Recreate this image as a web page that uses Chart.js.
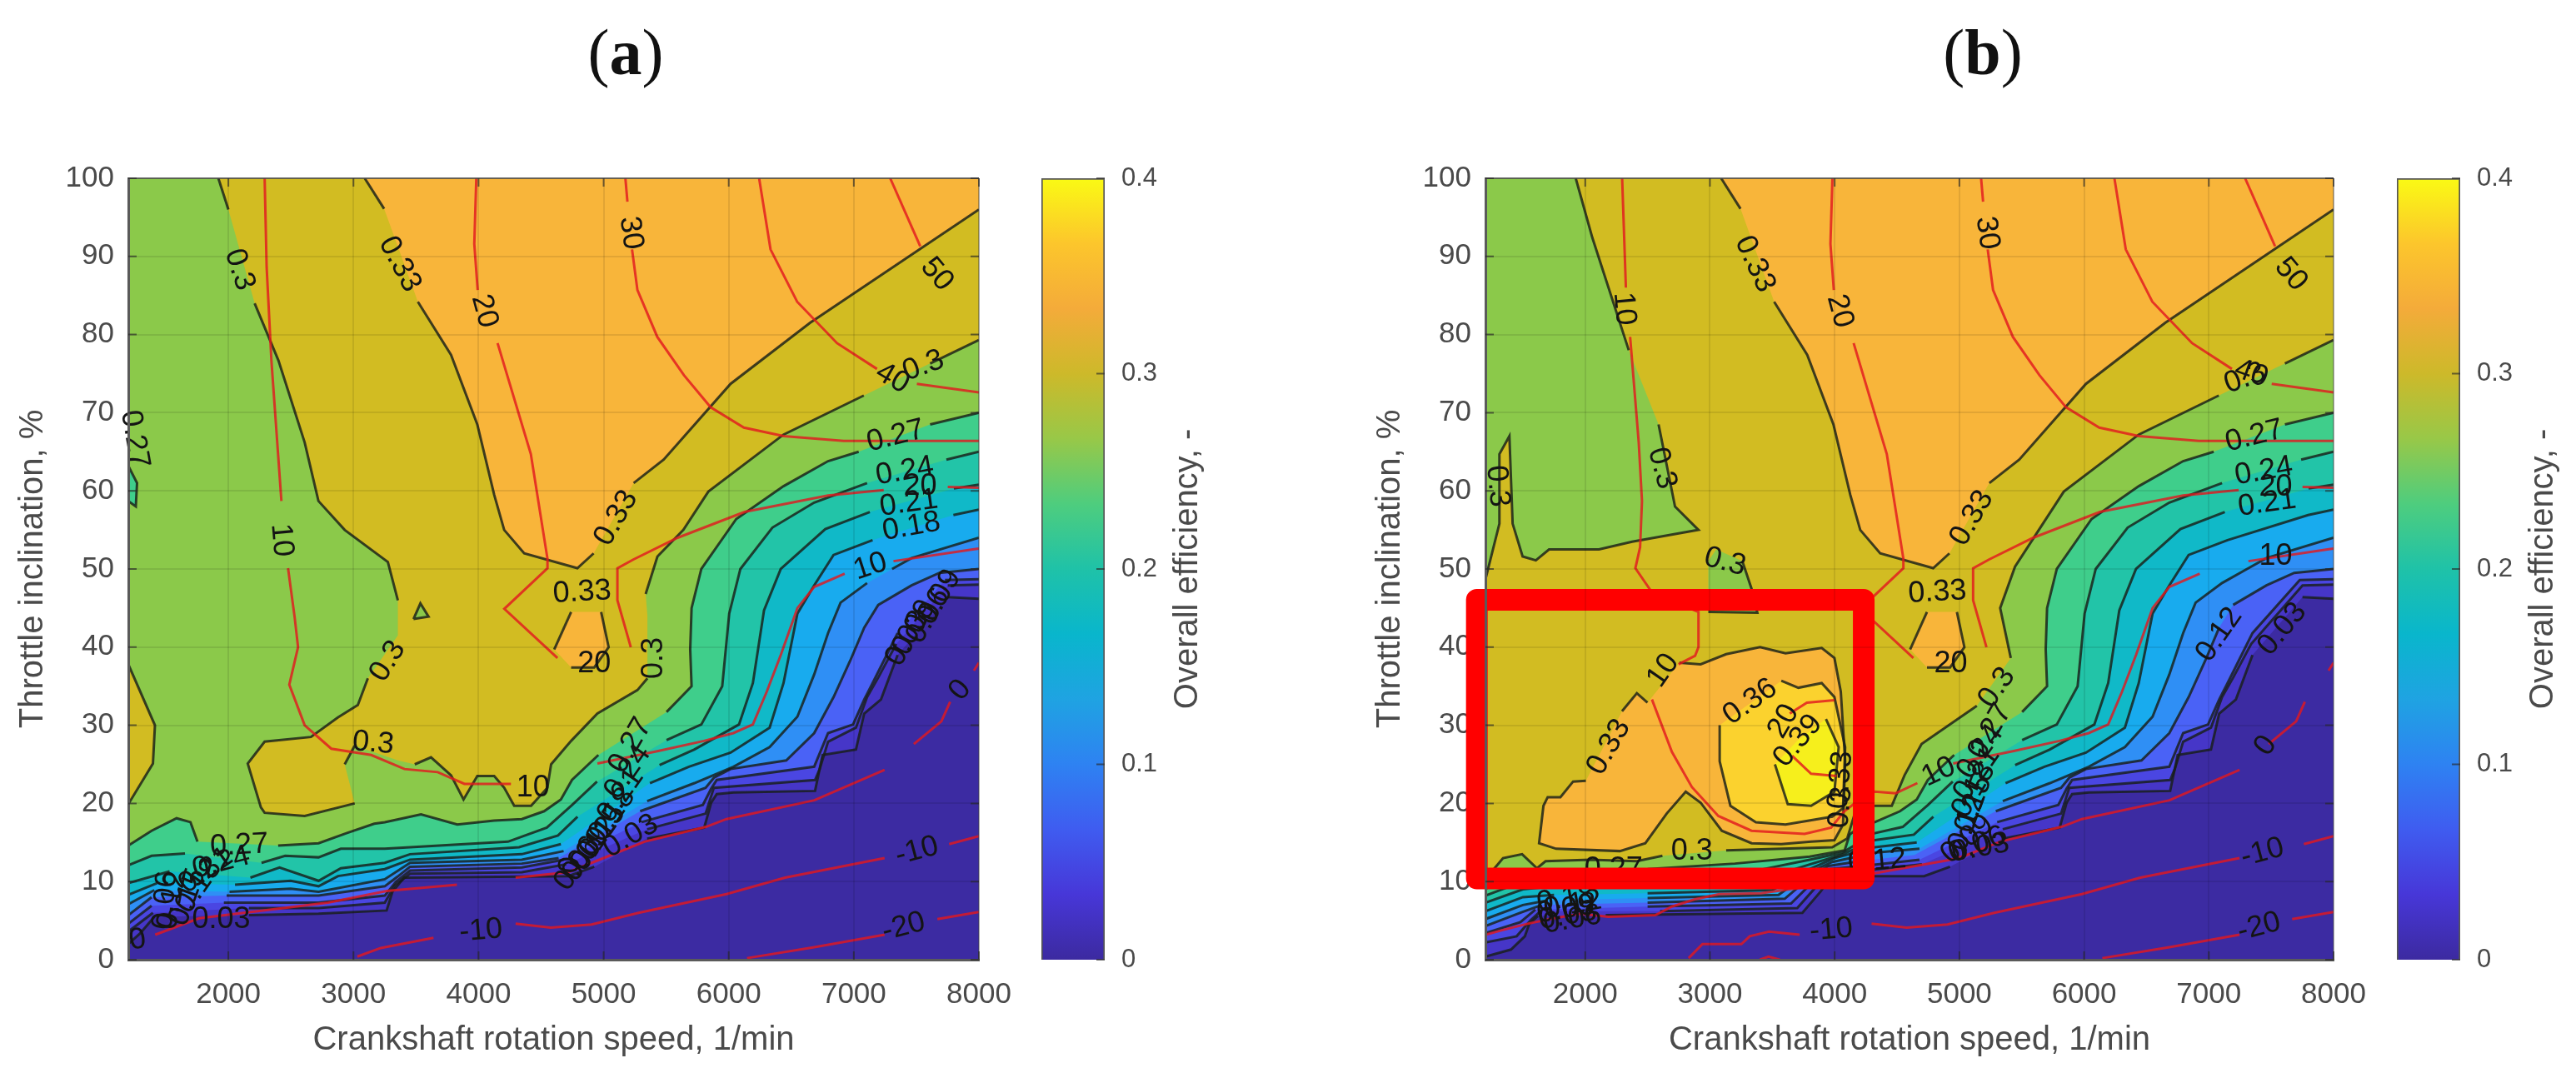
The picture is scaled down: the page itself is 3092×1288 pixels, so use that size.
<!DOCTYPE html>
<html>
<head>
<meta charset="utf-8">
<title>Overall efficiency maps</title>
<script src="https://cdn.jsdelivr.net/npm/chart.js@4"></script>
<style>
  html, body { margin: 0; background: #fff; width: 3092px; height: 1288px; overflow: hidden; }
  canvas { position: absolute; filter: blur(0.7px); }
  .panel { position: absolute; top: 18px; width: 300px; text-align: center; font: 78px "Liberation Serif", serif; color: #111; }
</style>
</head>
<body>
<div class="panel" style="left:601px">(<b>a</b>)</div>
<div class="panel" style="left:2230px">(<b>b</b>)</div>
<canvas id="mapA" width="1230" height="1098" style="left:0;top:190px"></canvas>
<canvas id="barA" width="260" height="1098" style="left:1240px;top:190px"></canvas>
<canvas id="mapB" width="1230" height="1098" style="left:1629px;top:190px"></canvas>
<canvas id="barB" width="260" height="1098" style="left:2867px;top:190px"></canvas>
<script>
// --- Axis ticks ---
const xTicks = [2000, 3000, 4000, 5000, 6000, 7000, 8000];
const yTicks = [0, 10, 20, 30, 40, 50, 60, 70, 80, 90, 100];
const barTicks = [0, 0.1, 0.2, 0.3, 0.4];

// --- Colours of the contour bands, lowest first ---
const bandColors = ['#3c2ba2', '#4636c8', '#4a46e2', '#4a62f6', '#2f8ff5', '#18abee', '#10b9c8', '#22c4a8', '#3fce8b', '#8bc94a', '#d2bc22', '#f8b53a', '#fbd22e', '#f6ef1c'];
const barStops = ['#3c2aa0', '#4737d8', '#3f5cf0', '#2e82f2', '#1fa3e2', '#09b6cc', '#1fc2a8', '#4ecd7e', '#98c848', '#cdb92a', '#f4ab3a', '#fcc62c', '#fafa14'];

// --- Efficiency contours, right part shared by both maps ---
const tail03 = [[5348,15.5],[5804,16.9],[5860,20.1],[5904,21.2],[6038,21.4],[6690,21.6],[6750,26.2],[7017,26.9],[7083,31.5],[7217,33.3],[7350,39],[7751,46.4],[8000,46.2]];
const tail06 = [[5348,16.7],[5815,18.7],[5881,22],[6690,23],[6727,24.4],[6794,27.9],[7017,29.7],[7106,33.6],[7195,36.1],[7339,40.4],[7751,47.9],[8000,48]];
const tail09 = [[5303,17.6],[5793,19.8],[5860,21.9],[5904,23],[6683,24.7],[6794,29],[6994,30.1],[7083,33.3],[7150,35.4],[7350,41.8],[7729,48.6],[8000,48.7]];
const tail12 = [[5292,19],[5815,22],[5882,23.3],[6015,24.4],[6460,25.5],[6683,29],[6838,33.6],[6972,38.3],[7083,42.5],[7195,45.4],[7462,47.9],[7684,49.5],[8000,50]];
const tail15 = [[5348,20.3],[5726,22.6],[6038,24.7],[6327,27.2],[6549,31.1],[6683,36.5],[6794,41.8],[6894,45.7],[7106,48.2],[7306,50],[7462,51.4],[8000,54]];
const tail18 = [[5370,22.6],[5682,24.7],[6015,26.5],[6327,29.7],[6438,35.4],[6549,44.3],[6683,47.9],[6838,51.8],[7150,53.7],[7796,56.9],[8000,57.6]];
const tail21 = [[5447,24.9],[5726,26.9],[6082,30.1],[6193,35.4],[6282,44.7],[6416,50],[6772,55.1],[7128,57.3],[7800,60.3],[8000,60.8]];
const tail24 = [[5503,28.1],[5781,30.1],[5948,35],[6004,44.3],[6093,50],[6349,55.3],[6683,58.5],[7106,61],[7740,64],[8000,65]];
const tail27 = [[5503,31.7],[5703,35],[5692,39.7],[5703,45],[5781,50],[6060,56.4],[6438,60.6],[6794,63.8],[7039,65],[7610,68.5],[8000,70]];
const tail30 = [[5637,55],[5837,59.9],[6438,67.2],[7080,72.2],[7610,76.3],[8000,79.3]];
const top33 = [[3090,100],[3245,96.1],[3515,84.2],[3780,77.4],[3990,68.5],[4125,59.5],[4205,55],[4365,52],[4790,50.1],[4920,52],[5240,61],[5480,64],[6015,73.7],[6650,81.5],[8000,96],[8000,100]];
const small33 = [[4605,39.7],[4740,44.5],[4980,44.5],[5040,40],[4925,37.4],[4740,37.4],[4605,39.7]];

// --- Map (a), left part of the contours ---
const a03 = [[1200,2],[1296,3.4],[1408,5.5],[2164,5.7],[2721,5.9],[3265,6.3],[3312,8.7],[3405,10.5],[4717,10.7],[4925,11.9]];
const a06 = [[1200,3.6],[1397,6],[2164,6.6],[2721,6.6],[3250,7.3],[3330,9.5],[3452,11],[4346,11.2],[4700,12.2]];
const a09 = [[1200,4.6],[1386,6.9],[1964,7.3],[2721,7.3],[3250,8.2],[3340,10],[3452,11.4],[4346,11.8],[4680,12.8]];
const a12 = [[1200,5.7],[1386,8],[1986,8.2],[2721,8.2],[3250,9.4],[3350,10.6],[3452,11.9],[4346,12.3],[4640,13]];
const a15 = [[1200,7.1],[1408,8.9],[2009,8.7],[2498,9.1],[2721,8.7],[3250,10.3],[3452,12.4],[4346,12.8],[4680,13.9]];
const a18 = [[1200,8.3],[1430,9.8],[2053,9.6],[2498,10.1],[2721,9.4],[2877,10.7],[3250,11.6],[3452,12.8],[4346,13.5],[4658,14.8]];
const a21 = [[1200,9.8],[1530,11.3],[2176,10.5],[2409,11.8],[2721,10.1],[2899,11.7],[3250,12.4],[3452,13.5],[4324,14.4],[4635,15.9],[4791,18.3]];
const a24 = [[1200,12.1],[1386,13.3],[1653,13.6],[2265,12.4],[2454,13.3],[2721,13.1],[2899,14.2],[3250,14.2],[4235,15.1],[4546,16.9],[4747,19.8],[4947,22.8]];
const a27 = [[1200,14.6],[1386,16.5],[1586,18.1],[1697,17.6],[1753,15.1],[2398,14.6],[2721,14.9],[2944,16.2],[3166,17.4],[3250,17.6],[3540,18.6],[3830,17.3],[4124,17.8],[4346,18],[4524,19],[4658,20.5],[4747,23],[4958,26.2]];
const a30 = [[1920,100],[2000,96],[2210,84],[2400,76.7],[2610,66.2],[2720,58.7],[2930,55],[3275,50.9],[3355,46],[3355,41.5],[3115,36],[3035,32.6],[2875,31],[2660,28.5],[2290,27.9],[2155,25.1],[2260,19.5],[2290,18.8],[2610,18.4],[3010,20],[2930,25],[3010,27.4],[3355,25.5],[3490,25],[3620,25.9],[3780,23.6],[3880,20.5],[3990,23.5],[4125,23.5],[4205,22],[4285,19.7],[4420,19.7],[4550,22],[4580,25],[4740,28],[4950,31.5],[5270,34.5],[5350,36],[5350,44],[5336,46.8],[5430,51.6]];
const aIsland = [[1200,37.8],[1413,30],[1397,25.1],[1200,19.9]];
const aHole = [[3480,43.6],[3535,45.6],[3600,43.9],[3480,43.6]];
const aSliver = [[1200,63.2],[1270,61],[1260,58],[1200,58.7]];

// --- Map (b), left part of the contours ---
const b03 = [[1200,0.4],[1405,1.3],[1516,3],[1549,4.5],[1620,5.6],[2164,5.7],[3741,6],[3886,8.7],[3980,10.7],[4717,10.7],[4925,11.9]];
const b06 = [[1200,2.2],[1450,3],[1560,5],[1640,6.2],[2600,6.2],[3700,6.6],[3860,9.5],[3970,11],[4346,11.6],[4700,12.2]];
const b09 = [[1200,3.4],[1480,4.8],[1600,6.4],[2500,6.8],[3650,7.2],[3840,10.2],[3960,11.6],[4346,12.2],[4680,12.8]];
const b12 = [[1200,4.3],[1480,6],[1650,7],[2500,7.3],[3600,7.8],[3820,10.8],[3950,12],[4200,12.6],[4640,13.4]];
const b15 = [[1200,5.2],[1500,7],[1700,7.6],[2500,7.9],[3550,8.3],[3800,11.2],[3980,12.5],[4322,13.7],[4680,14.2]];
const b18 = [[1200,6.2],[1500,8],[1750,8.3],[2500,8.5],[3500,8.9],[3800,11.6],[4000,13],[4322,14.4],[4658,15]];
const b21 = [[1200,7.3],[1500,9],[1800,9.5],[2500,9.8],[3400,10.2],[3800,12.2],[4050,13.4],[4322,15.3],[4635,16],[4791,18.3]];
const b24 = [[1200,8.2],[1500,10],[1800,10.5],[2500,10.8],[3400,11.5],[3800,12.8],[4060,13.7],[4322,16.2],[4546,17],[4747,19.8],[4947,22.8]];
const b27 = [[1200,9],[1273,10],[1500,11.5],[1613,10.8],[2000,11.5],[2500,11.6],[3200,12.3],[3800,13.2],[4080,14],[4120,16],[4200,17],[4322,17.6],[4524,19],[4658,20.5],[4747,23],[4958,26.2]];
const b30 = [[1200,10],[1273,11.7],[1341,13],[1494,13.5],[1613,11.7],[1682,12.6],[2039,12.8],[2414,12.6],[2619,13.3],[3130,14],[3981,14.4],[4100,15.5],[4180,19.7],[4458,19.7],[4560,23.6],[4697,27.6],[5140,32.5],[5412,38.6],[5327,45],[5446,50.3]];
const bGreenTop = [[1200,100],[1924,100],[2057,92.4],[2349,78],[2588,68.5],[2720,58],[2908,55],[2376,53.5],[2110,52.5],[1710,52.5],[1604,51.1],[1498,51.6],[1418,55.8],[1392,67],[1312,64.7],[1312,55.8],[1205,49],[1200,49]];
const bGreenMid = [[2987,51],[3050,52.5],[3260,51],[3333,47.5],[3380,44.4],[2987,44.5]];
const b33 = [[2005,22.9],[1903,22.8],[1801,20.8],[1699,20.8],[1665,19.7],[1630,14.9],[1767,14.2],[2278,13.9],[2482,14.9],[2653,18.7],[2806,21.5],[2925,20.1],[3095,16.5],[3334,14.9],[3572,14.8],[3811,15.1],[3998,15.3],[4067,17.3],[4084,25.4],[4049,34.3],[3998,38.6],[3896,39.9],[3606,39.2],[3402,40],[3130,39.1],[2925,37.8],[2755,38],[2499,32.9],[2414,34.1],[2295,31.8],[2005,22.9]];
const b36 = [[3078,30],[3078,25.4],[3164,19.7],[3368,17.6],[3606,17.3],[3981,18.3],[4067,19.4],[4084,27.2],[3998,33.6],[3896,35.4],[3709,34.8],[3572,35.7],[3078,30]];
const b39 = [[3521,25],[3624,19.9],[3811,19.7],[3998,21.5],[4032,27.2],[3930,30.8],[3700,28],[3521,25]];

// --- Power lines ---
const red10Tail = [[4950,25.1],[5436,26.7],[5802,28],[6037,29],[6193,30.1],[6304,34.3],[6416,39],[6549,45],[6683,47.7],[6927,49.4],[7317,51],[7951,52.5],[8000,52.6]];
const red20 = [[3982,100],[3966,91.6],[3993,85.7],[4152,78.9],[4418,64.7],[4551,51.3],[4551,50.1],[4206,44.9],[4631,38.6],[4738,37.4],[5217,40],[5110,46],[5110,50.1],[5236,51.2],[5592,54],[6126,57.3],[6794,59.4],[7239,60.1],[7751,60.5],[8000,60.4]];
const red30 = [[5174,100],[5190,97],[5227,90.9],[5270,85.7],[5429,79.7],[5642,74.8],[5855,70.7],[6121,68.1],[6440,67],[6919,66.4],[8000,66.4]];
const red40 = [[6243,100],[6334,90.9],[6547,84.2],[6866,78.9],[7185,75.6],[7504,73.7],[8000,72.6]];
const red50 = [[7291,100],[7531,91.3],[7770,85.7],[8000,83.4]];
const red0Tail = [[5045,13.3],[5326,15.1],[5818,17],[5982,18],[6684,20.4],[7246,24.3],[7480,27.6],[7700,30.5],[7770,33],[7960,37],[8000,38]];
const redNeg10Tail = [[4296,4.6],[4577,4.1],[4904,4.5],[5279,6],[5982,8.4],[6450,10.5],[7246,13],[7762,14.8],[8000,15.8]];
const redNeg20 = [[6146,0.2],[6684,1.6],[7246,3.2],[7668,5.2],[8000,6.1]];
const red10A = [[2290,100],[2306,88.6],[2344,76.7],[2424,58.7],[2477,50.1],[2530,43.8],[2557,40],[2487,35.2],[2610,30],[2823,27],[3142,26.2],[3408,24.4],[3674,24],[3887,22.5],[4259,22.5],[4631,22.5]];
const red0A = [[1415,3.2],[1766,5.3],[2234,6.2],[2797,7.3],[3265,8.8],[3827,9.6],[4296,10.5],[4717,11.2]];
const redNeg10A = [[3031,0.4],[3218,1.5],[3640,2.8],[3827,3.4]];
const red10B = [[2296,100],[2322,87.9],[2326,86],[2360,79.7],[2429,66.2],[2455,58.7],[2440,52.8],[2402,50.1],[2535,47],[2908,44.5],[2908,40],[2881,38.9],[2748,37.8],[2535,33.3],[2695,26.6],[2855,22.1],[3067,18.4],[3333,16.5],[3759,16.1],[3972,16.9],[4078,19],[4200,20.5],[4322,21.5],[4490,21.3],[4663,22.6]];
const red20Inner = [[3998,33.2],[3777,32.9],[3640,31.5],[3658,26.1],[3811,23.8],[4015,23.5]];
const red0B = [[1200,3.2],[1338,3.8],[1538,4.6],[1716,5.2],[1961,5.9],[2184,5.5],[2562,5.7],[2695,6.8],[2873,7.7],[3074,8.4],[3408,8.5],[4000,9.8],[4263,10.9],[4930,12.8]];
const redNeg10B = [[2829,0.2],[2940,2],[3252,2],[3319,3],[3474,3.6],[3719,3.2]];
const redBump = [[3400,0],[3470,0.4],[3560,0]];

// --- Highlight box of map (b) ---
const highlightB = [[1131,46.05],[4233,46.05],[4233,10.4],[1131,10.4],[1131,46.05]];

// --- Contour labels: text, speed, throttle, rotation ---
const labelsA = [
  ['0.3',2088,88.3,72],['0.33',3370,89,62],['20',4046,83,75],['30',5217,93,82],['50',7664,87.7,50],['40',7308,74.4,30],['0.3',7557,76,-20],
  ['0.27',7334,67,-14],['0.24',7408,62.5,-10],['20',7530,60.5,0],['0.21',7440,58.4,-8],['0.18',7460,55.4,-10],['10',7132,50.3,-18],
  ['0.33',5100,56.5,-60],['0.33',4828,47,-3],['20',4924,37.8,0],['0.3',5403,38.6,-90],['0.3',3275,38.2,-58],['0.3',3158,27.7,5],['10',2424,53.7,85],['10',4435,21.9,0],['0.27',1250,66.6,80],
  ['0.27',2087,14.6,-3],['0.24',1942,12.4,-15],['0.21',1820,11.4,-35],['0.18',1764,9.4,-55],['0.15',1675,8,-70],['0.12',1552,7.6,-80],['0.06',1497,7.6,-85],['0.03',1942,5.1,0],['0',1274,2.5,-10],
  ['0.27',5214,27.4,-60],['0.24',5192,24,-55],['0.21',5136,21,-55],['0.18',5070,18.5,-55],['0.15',4992,16.4,-55],['0.12',4925,14.8,-55],['0.09',4858,13.5,-55],['0.06',4791,12.3,-55],['0.03',5217,15.8,-30],['0',4735,12.1,-85],
  ['0.09',7684,46.4,-60],['0.06',7595,44,-60],['0.09',7484,42.5,-60],['0.03',7428,41.1,-60],['0',7851,34.5,-50],['-10',4019,3.7,-5],['-10',7504,13.9,-15],['-20',7398,4.2,-15]
];
const labelsB = [
  ['0.33',3360,89,65],['20',4041,83,75],['30',5222,93,82],['50',7658,87.7,50],['0.3',7290,74.4,-20],['40',7340,75,20],
  ['0.27',7365,67,-14],['0.24',7440,62.5,-10],['20',7536,60.4,0],['0.21',7467,58.4,-8],['10',7536,51.6,0],['0.12',7084,41.6,-55],['0.03',7590,42.3,-50],['0',7456,27.4,-55],['-10',7430,13.7,-15],['-20',7403,4.2,-15],['-10',3972,3.8,-5],
  ['10',2312,83.3,85],['0.3',2615,62.9,75],['0.3',1296,60.6,85],['0.3',3120,50.9,15],['0.33',2190,27.2,-60],['10',2626,37,-55],['0.36',3323,33,-35],['20',3590,30.5,-60],['0.39',3706,28,-50],['0.33',4050,23,-85],['0.3',4050,19.5,-85],['0.3',2855,13.9,0],['0.27',2227,11.5,0],
  ['0.33',5100,56.5,-60],['0.33',4823,47,-3],['20',4930,37.8,0],['0.3',5302,34.8,-55],['0.27',5248,29.2,-60],['0.24',5168,26.6,-55],['10',4834,24,-25],['0.21',5140,23.8,-55],['0.18',5115,21.7,-60],['0.15',5115,19.9,-70],['0.12',5062,17.6,-70],['0.09',5062,15.4,-40],['0.06',5142,14.7,-20],['0.03',5168,14.3,-10],['0.12',4340,12.6,-5],
  ['0.18',1844,7.8,-10],['0.12',1900,7,-10],['0.09',1844,6.4,-10],['0.06',1897,5.1,-10],['0.03',1860,5.6,-10]
];

// --- Where a contour is broken for its label (x of the point the gap starts at) ---
const gapsA = { a03:[1408,4925,7350], a06:[1397,4700,7339], a09:[1386,4680,7350], a12:[1386,4640], a15:[1408,4680,7106], a18:[1430,4658,7150], a21:[1530,4791,7128], a24:[1653,4947,7106], a27:[1753,4958,7039], a30:[2000,3355,3010,5350,7080] };
const gapsB = { b03:[1620,4925,7350], b06:[1640,4700], b09:[1600,4680], b12:[1650,4200,4640,7083], b15:[1700,4680], b18:[1750,4658], b21:[1800,4791,7128], b24:[1800,4947,7106], b27:[1613,4958,7039], b30:[2619,5140,7080] };
const gaps33 = [3245,4920];
const redGaps = [2424,4259,4631,6927,3993,4738,7239,5190,7185,7531,7770,3827,7246,3719,4663,2326,2748,3640];

const contourColor = 'rgba(25,30,25,0.82)';
const redColor = 'rgba(226,24,30,0.82)';
const axisFont = { family: '"Liberation Sans", Arial, sans-serif', size: 35 };
const barFont = { family: axisFont.family, size: 31 };
const titleFont = { family: axisFont.family, size: 40 };
const textColor = '#4a4a4a';

function fillSet(points, color, i) {
  return { data: points, showLine: true, fill: 'shape', backgroundColor: color, borderWidth: 0, pointRadius: 0, order: 1000 - i };
}

function lineSet(points, color, width, gaps, i) {
  return {
    data: points, showLine: true, fill: false, borderColor: color, borderWidth: width, pointRadius: 0, order: 500 - i,
    segment: { borderColor: c => gaps.includes(c.p0.parsed.x) ? 'transparent' : undefined }
  };
}

// draws the rotated contour labels just before the highlight box, so the box covers them
const contourLabels = {
  id: 'contourLabels',
  beforeDatasetDraw(chart, args) {
    if (chart.data.datasets[args.index].label !== 'highlight') return;
    const { ctx, scales } = chart;
    ctx.save();
    ctx.fillStyle = '#141414';
    ctx.font = '36px "Liberation Sans", Arial, sans-serif';
    ctx.textAlign = 'center';
    ctx.textBaseline = 'middle';
    for (const [text, x, y, rot] of chart.options.plugins.contourLabels.items) {
      ctx.save();
      ctx.translate(scales.x.getPixelForValue(x), scales.y.getPixelForValue(y));
      ctx.rotate(rot * Math.PI / 180);
      ctx.fillText(text, 0, 0);
      ctx.restore();
    }
    ctx.restore();
  }
};

// short ticks pointing inwards, like the original axes
const innerTicks = {
  id: 'innerTicks',
  afterDraw(chart) {
    const { ctx, chartArea: a, scales } = chart;
    ctx.save();
    ctx.strokeStyle = 'rgba(40,40,40,0.65)';
    ctx.lineWidth = 2;
    ctx.beginPath();
    if (scales.y) for (const t of scales.y.ticks) {
      const py = scales.y.getPixelForValue(t.value);
      if (scales.y.position === 'right') {
        ctx.moveTo(a.right, py); ctx.lineTo(a.right - 10, py);
      } else {
        ctx.moveTo(a.left, py); ctx.lineTo(a.left + 10, py);
        ctx.moveTo(a.right, py); ctx.lineTo(a.right - 10, py);
      }
    }
    if (scales.x && scales.x.type === 'linear') for (const t of scales.x.ticks) {
      const px = scales.x.getPixelForValue(t.value);
      ctx.moveTo(px, a.bottom); ctx.lineTo(px, a.bottom - 10);
      ctx.moveTo(px, a.top); ctx.lineTo(px, a.top + 10);
    }
    ctx.stroke();
    ctx.restore();
  }
};

function createMap(canvasId, rightPad, fills, lines, labels, highlight) {
  const datasets = [];
  fills.forEach((f, i) => datasets.push(fillSet(f[0], f[1], i)));
  lines.forEach((l, i) => datasets.push(lineSet(l[0], l[1], l[2], l[3], i)));
  datasets.push({ label: 'highlight', data: highlight, showLine: true, fill: false, borderColor: '#ff0000', borderWidth: 26, borderCapStyle: 'round', borderJoinStyle: 'round', pointRadius: 0, clip: false, order: 1 });
  return new Chart(document.getElementById(canvasId), {
    type: 'scatter',
    data: { datasets },
    plugins: [contourLabels, innerTicks],
    options: {
      responsive: false,
      animation: false,
      devicePixelRatio: 1,
      layout: { padding: { top: 24, right: rightPad, left: 0, bottom: 0 } },
      plugins: { legend: { display: false }, tooltip: { enabled: false }, contourLabels: { items: labels } },
      scales: {
        x: {
          type: 'linear', min: 1200, max: 8000,
          afterBuildTicks: s => { s.ticks = xTicks.map(v => ({ value: v })); },
          afterFit: s => { s.height = 136; s.paddingLeft = 0; s.paddingRight = 0; },
          grid: { color: c => c.tick && c.tick.value === 8000 ? 'rgba(70,70,70,0.45)' : 'rgba(0,0,0,0.09)', lineWidth: 2, drawTicks: false, z: 1 },
          border: { color: '#5a5a5a', width: 3, z: 2 },
          ticks: { font: axisFont, color: textColor, padding: 21, maxRotation: 0, autoSkip: false, callback: v => String(v) },
          title: { display: true, text: 'Crankshaft rotation speed, 1/min', font: titleFont, color: textColor, padding: { top: 0, bottom: 15 } }
        },
        y: {
          min: 0, max: 100,
          afterBuildTicks: s => { s.ticks = yTicks.map(v => ({ value: v })); },
          afterFit: s => { s.width = 154; s.paddingTop = 0; s.paddingBottom = 0; },
          grid: { color: c => c.tick && c.tick.value === 100 ? 'rgba(70,70,70,0.8)' : 'rgba(0,0,0,0.09)', lineWidth: 2, drawTicks: false, z: 1 },
          border: { color: '#5a5a5a', width: 3, z: 2 },
          ticks: { font: axisFont, color: textColor, padding: 17, autoSkip: false, callback: v => String(v) },
          title: { display: true, text: 'Throttle inclination, %', font: titleFont, color: textColor, padding: { top: 16, bottom: 0 } }
        }
      }
    }
  });
}

// colour bar: one bar from 0 to 0.4 painted with the colour scale
function createColorBar(canvasId) {
  return new Chart(document.getElementById(canvasId), {
    type: 'bar',
    data: {
      labels: ['Overall efficiency'],
      datasets: [{
        data: [0.4],
        barPercentage: 1,
        categoryPercentage: 1,
        borderColor: '#555',
        borderWidth: 2,
        backgroundColor: c => {
          const area = c.chart.chartArea;
          if (!area) return barStops[0];
          const g = c.chart.ctx.createLinearGradient(0, area.bottom, 0, area.top);
          barStops.forEach((col, i) => g.addColorStop(i / (barStops.length - 1), col));
          return g;
        }
      }]
    },
    plugins: [innerTicks, {
      id: 'barTitle',
      afterDraw(chart) {
        const { ctx, chartArea: a } = chart;
        ctx.save();
        ctx.fillStyle = textColor;
        ctx.font = '40px "Liberation Sans", Arial, sans-serif';
        ctx.textAlign = 'center';
        ctx.textBaseline = 'middle';
        ctx.translate(186, (a.top + a.bottom) / 2);
        ctx.rotate(-Math.PI / 2);
        ctx.fillText('Overall efficiency, -', 0, 0);
        ctx.restore();
      }
    }],
    options: {
      responsive: false,
      animation: false,
      devicePixelRatio: 1,
      layout: { padding: { top: 24, left: 10, bottom: 136, right: 0 } },
      plugins: { legend: { display: false }, tooltip: { enabled: false } },
      scales: {
        x: { display: false },
        y: {
          position: 'right', min: 0, max: 0.4,
          afterBuildTicks: s => { s.ticks = barTicks.map(v => ({ value: v })); },
          afterFit: s => { s.width = 174; s.paddingTop = 0; s.paddingBottom = 0; },
          grid: { display: false },
          border: { display: false },
          ticks: { font: barFont, color: textColor, padding: 12, callback: v => String(v) }
        }
      }
    }
  });
}

const closeTop = [[8000,100],[1200,100]];
const baseArea = [[1200,0],[8000,0],[8000,100],[1200,100]];
const c = bandColors;

const contoursA = [[a03,tail03],[a06,tail06],[a09,tail09],[a12,tail12],[a15,tail15],[a18,tail18],[a21,tail21],[a24,tail24],[a27,tail27],[a30,tail30]].map(p => p[0].concat(p[1]));
const contoursB = [[b03,tail03],[b06,tail06],[b09,tail09],[b12,tail12],[b15,tail15],[b18,tail18],[b21,tail21],[b24,tail24],[b27,tail27],[b30,tail30]].map(p => p[0].concat(p[1]));
const gapListA = Object.values(gapsA);
const gapListB = Object.values(gapsB);

const fillsA = [[baseArea, c[0]]];
contoursA.forEach((pts, i) => {
  // a30 starts at the top edge and ends at the right edge: only the right corner closes it
  fillsA.push([i === 9 ? pts.concat([[8000,100]]) : pts.concat(closeTop), c[i + 1]]);
});
fillsA.push([aIsland, c[10]], [aHole, c[9]], [aSliver, c[8]], [top33, c[11]], [small33, c[11]]);

const linesA = contoursA.map((pts, i) => [pts, contourColor, 3, gapListA[i]]);
linesA.push([aIsland, contourColor, 3, []], [aHole, contourColor, 3, []], [aSliver, contourColor, 3, []], [top33.slice(0, -1), contourColor, 3, gaps33], [small33, contourColor, 3, [4740]]);
for (const pts of [red10A.concat(red10Tail), red20, red30, red40, red50, red0A.concat(red0Tail), redNeg10A.concat(redNeg10Tail), redNeg20]) {
  linesA.push([pts, redColor, 3, redGaps]);
}

const fillsB = [[baseArea, c[0]]];
contoursB.forEach((pts, i) => fillsB.push([pts.concat(closeTop), c[i + 1]]));
fillsB.push([bGreenTop, c[9]], [bGreenMid, c[9]], [top33, c[11]], [small33, c[11]], [b33, c[11]], [b36, c[12]], [b39, c[13]]);

const linesB = contoursB.map((pts, i) => [pts, contourColor, 3, gapListB[i]]);
linesB.push([bGreenTop.slice(1), contourColor, 3, [2349]], [bGreenMid, contourColor, 3, [2987,3050]], [top33.slice(0, -1), contourColor, 3, gaps33], [small33, contourColor, 3, [4740]], [b33, contourColor, 3, [2295,2755]], [b36, contourColor, 3, [3572]], [b39, contourColor, 3, [3930,3700]]);
for (const pts of [red10B.concat(red10Tail), red20, red20Inner, red30, red40, red50, red0B.concat(red0Tail), redNeg10B.concat(redNeg10Tail), redBump, redNeg20]) {
  linesB.push([pts, redColor, 3, redGaps]);
}

createMap('mapA', 55, fillsA, linesA, labelsA, []);
createColorBar('barA');
createMap('mapB', 58, fillsB, linesB, labelsB, highlightB);
createColorBar('barB');
</script>
</body>
</html>
